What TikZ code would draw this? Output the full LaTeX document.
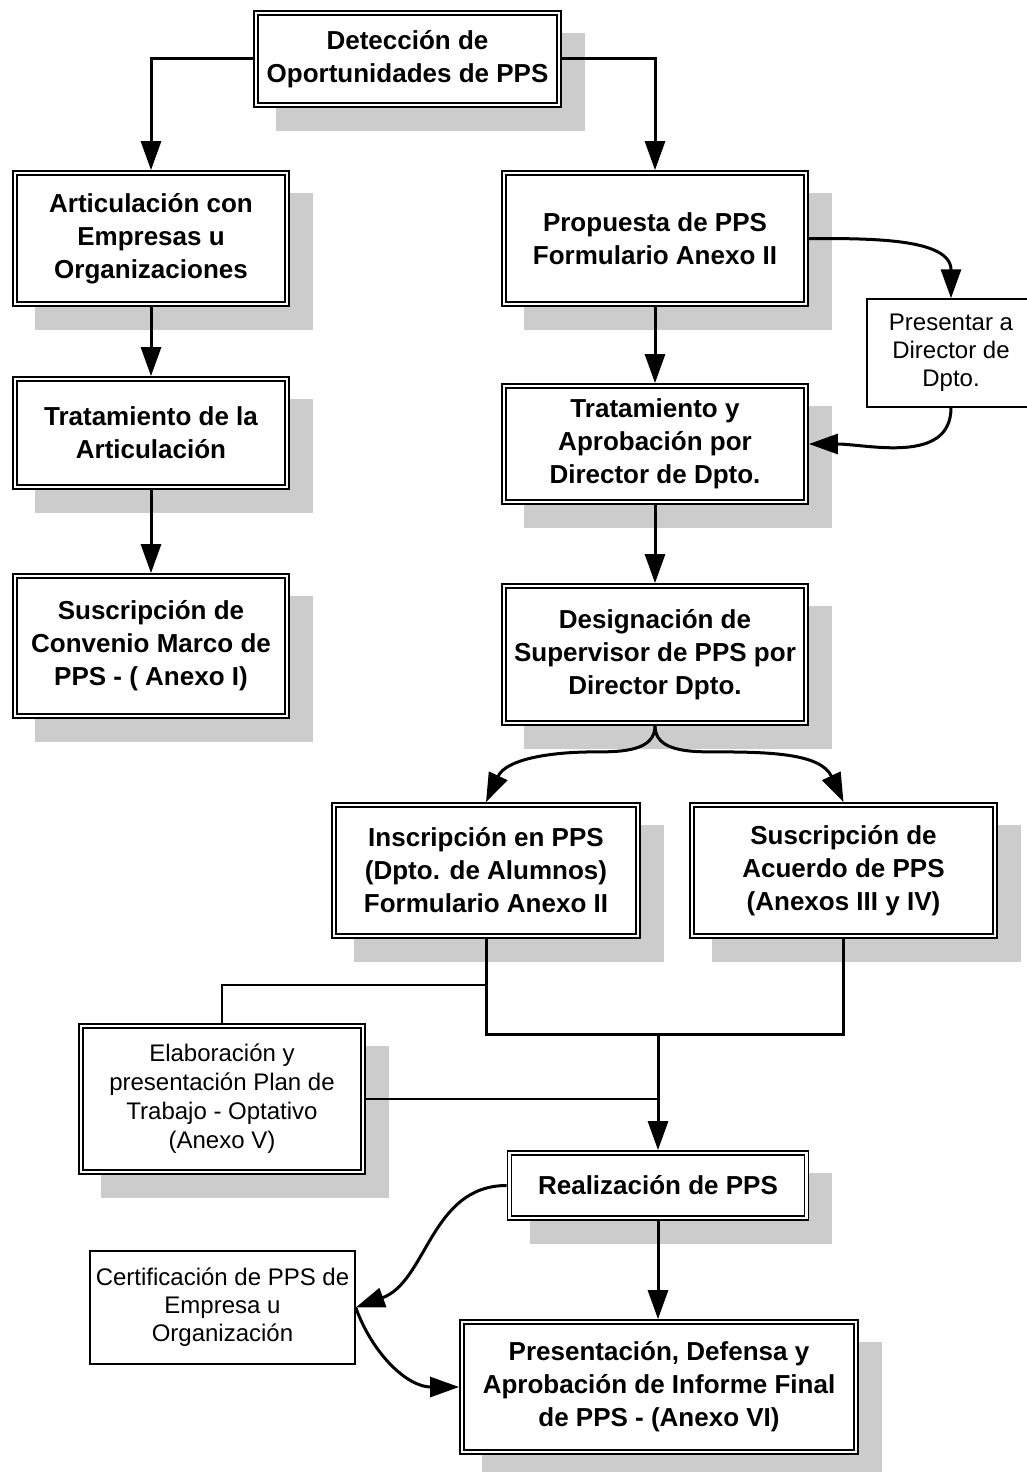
\documentclass[tikz,border=0pt]{standalone}
\usepackage{fontspec}
\setmainfont{Liberation Sans}
\usetikzlibrary{arrows.meta,calc,backgrounds}
\definecolor{shadowgray}{HTML}{CCCCCC}
\tikzset{
    stage/.style={draw,double,line width=1.6pt,double distance=2.6pt,outer sep=2.9pt,
        fill=white,align=center,inner sep=0pt,font=\fontsize{26}{33}\selectfont\bfseries},
    plainstage/.style={stage,font=\fontsize{24}{29}\selectfont},
    note/.style={draw,line width=1.4pt,fill=white,align=center,inner sep=0pt,
        font=\fontsize{24}{28}\selectfont},
    flow/.style={line width=3pt,-{Triangle[width=20pt,length=29pt]}},
    bar/.style={line width=3pt},
    aux/.style={line width=1.4pt}
}

\begin{document}
\begin{tikzpicture}[x=1pt,y=1pt]
    \useasboundingbox (0,0) rectangle (1027,-1472);
    % left column
    \node[stage,minimum width=303,minimum height=92] (det) at (407.5,-59) {Detección de\\Oportunidades de PPS};
    \node[stage,minimum width=272,minimum height=131] (art) at (151,-238.5) {Articulación con\\Empresas u\\Organizaciones};
    \node[stage,minimum width=272,minimum height=108] (trat) at (151,-433) {Tratamiento de la\\Articulación};
    \node[stage,minimum width=272,minimum height=140] (conv) at (151,-646) {Suscripción de\\Convenio Marco de\\PPS - ( Anexo I)};
    % right column
    \node[stage,minimum width=302,minimum height=131] (prop) at (655,-238.5) {Propuesta de PPS\\Formulario Anexo II};
    \node[note,minimum width=168,minimum height=108] (dir) at (951,-353) {Presentar a\\Director de\\Dpto.};
    \node[stage,minimum width=302,minimum height=116] (aprob) at (655,-444) {Tratamiento y\\Aprobación por\\Director de Dpto.};
    \node[stage,minimum width=302,minimum height=137] (desig) at (655,-654.5) {Designación de\\Supervisor de PPS por\\Director Dpto.};
    \node[stage,minimum width=304,minimum height=131] (insc) at (486,-870.5) {Inscripción en PPS\\(Dpto. de Alumnos)\\Formulario Anexo II};
    \node[stage,minimum width=303,minimum height=131] (acuer) at (843.5,-870.5) {Suscripción de\\Acuerdo de PPS\\(Anexos III y IV)};
    \node[plainstage,minimum width=282,minimum height=146] (plan) at (222,-1099) {Elaboración y\\presentación Plan de\\Trabajo - Optativo\\(Anexo V)};
    \node[stage,minimum width=297,minimum height=65] (real) at (658,-1185.5) {Realización de PPS};
    \node[note,minimum width=265,minimum height=113] (cert) at (222.5,-1307.5) {Certificación de PPS de\\Empresa u\\Organización};
    \node[stage,minimum width=394,minimum height=130] (final) at (659,-1387) {Presentación, Defensa y\\Aprobación de Informe Final\\de PPS - (Anexo VI)};

    \begin{pgfonlayer}{background}
        \foreach \n in {det,art,trat,conv,prop,aprob,desig,insc,acuer,plan,real,final}{%
        \fill[shadowgray] ($(\n.north west)+(23,-23)$) rectangle ($(\n.south east)+(23,-23)$);
        }
    \end{pgfonlayer}

    \draw[flow] (det.west) -| (art.north);
    \draw[flow] (det.east) -| (prop.north);
    \draw[flow] (art) -- (trat);
    \draw[flow] (trat) -- (conv);
    \draw[flow] (prop) -- (aprob);
    \draw[flow] (prop.east) to[out=0,in=90] (dir.north);
    \draw[flow] (dir.south) to[out=-90,in=0] (aprob.east);
    \draw[flow] (aprob) -- (desig);
    \draw[flow] (desig.south) to[out=-90,in=0] ++(-60,-26) to[out=180,in=65] (insc.north);
    \draw[flow] (desig.south) to[out=-90,in=180] ++(60,-26) to[out=0,in=115] (acuer.north);
    % joining both branches
    \coordinate (jn) at ($(insc.south -| real.north)+(0,-96)$);
    \coordinate (tap) at ($(insc.south)+(0,-46)$);
    \draw[bar] (insc.south) |- (jn) -| (acuer.south);
    \draw[flow] (jn) -- (real.north);
    \draw[aux] (tap) -| (plan.north);
    \draw[aux] (plan.east) -- (plan.east -| jn);
    \draw[flow] (real.south) -- (real.south |- final.north);
    \draw[flow] (real.west) to[out=180,in=20] (cert.east);
    \draw[flow] (cert.east) to[out=-70,in=180] (final.west);
\end{tikzpicture}
\end{document}
